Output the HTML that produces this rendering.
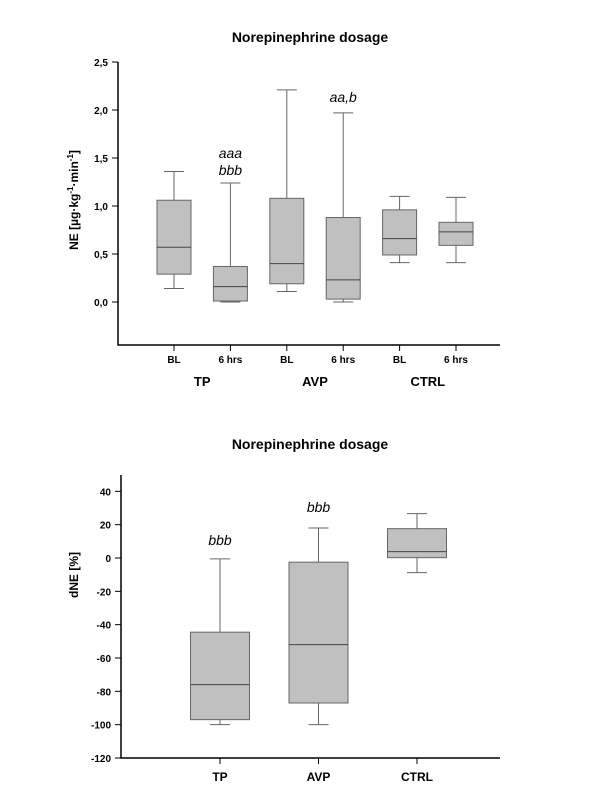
<!DOCTYPE html>
<html><head><meta charset="utf-8"><style>
body{margin:0;background:#fff}
svg{font-family:"Liberation Sans",sans-serif}
</style></head><body>
<svg id="s" width="600" height="800" xmlns="http://www.w3.org/2000/svg">
<text x="310" y="42" text-anchor="middle" font-size="14" font-weight="bold">Norepinephrine dosage</text>
<text x="310" y="449" text-anchor="middle" font-size="14" font-weight="bold">Norepinephrine dosage</text>
<text transform="translate(78,200) rotate(-90)" text-anchor="middle" font-size="12" font-weight="bold">NE [µg·kg<tspan dy="-5" font-size="8">-1</tspan><tspan dy="5">·min</tspan><tspan dy="-5" font-size="8">-1</tspan><tspan dy="5">]</tspan></text>
<text transform="translate(78,575) rotate(-90)" text-anchor="middle" font-size="12" font-weight="bold">dNE [%]</text>
<g id="g1"></g><g id="g2"></g>
</svg>
<script>
const topCats=["BL","6 hrs","BL","6 hrs","BL","6 hrs"];
const topGroups=["TP","AVP","CTRL"];
const topMin=[0.14,0.0,0.11,0.0,0.41,0.41];
const topQ1=[0.29,0.01,0.19,0.03,0.49,0.59];
const topMed=[0.57,0.16,0.40,0.23,0.66,0.73];
const topQ3=[1.06,0.37,1.08,0.88,0.96,0.83];
const topMax=[1.36,1.24,2.21,1.97,1.10,1.09];
const topTicks=["0,0","0,5","1,0","1,5","2,0","2,5"];
const topTickVals=[0,0.5,1,1.5,2,2.5];
const botCats=["TP","AVP","CTRL"];
const botMin=[-100,-100,-8.8];
const botQ1=[-97,-87,0.2];
const botMed=[-76,-52,3.8];
const botQ3=[-44.5,-2.5,17.6];
const botMax=[-0.5,18,26.6];
const botTicks=[-120,-100,-80,-60,-40,-20,0,20,40];
const NS="http://www.w3.org/2000/svg";
function mk(p,t,a,txt){const e=document.createElementNS(NS,t);for(const k in a)e.setAttribute(k,a[k]);if(txt!=null)e.textContent=txt;p.appendChild(e);return e;}
function yT(v){return 302-v*96;}
function xT(i){return 174+i*56.4;}
function yB(v){return 558-v*200/120;}
function xB(i){return 220+i*98.5;}
function boxes(g,n,x,y,mn,q1,md,q3,mx,w,cw,pfx){
 for(let i=0;i<n;i++){
  const cx=x(i);
  const bx=document.createElementNS(NS,'g');g.appendChild(bx);
  
  
  mk(bx,'line',{x1:cx,x2:cx,y1:y(mx[i]),y2:y(q3[i]),stroke:'#666'});
  mk(bx,'line',{x1:cx,x2:cx,y1:y(q1[i]),y2:y(mn[i]),stroke:'#666'});
  mk(bx,'line',{x1:cx-cw/2,x2:cx+cw/2,y1:y(mx[i]),y2:y(mx[i]),stroke:'#666'});
  mk(bx,'line',{x1:cx-cw/2,x2:cx+cw/2,y1:y(mn[i]),y2:y(mn[i]),stroke:'#666'});
  mk(bx,'rect',{x:cx-w/2,y:y(q3[i]),width:w,height:y(q1[i])-y(q3[i]),fill:'#c0c0c0',stroke:'#666'});
  mk(bx,'line',{x1:cx-w/2,x2:cx+w/2,y1:y(md[i]),y2:y(md[i]),stroke:'#444'});
 }
}
const g1=document.getElementById('g1');
let ax=mk(g1,'path',{d:'M118,62V345H500',fill:'none',stroke:'#000','stroke-width':1.5});


topTickVals.forEach((v,i)=>{mk(g1,'line',{x1:112,x2:118,y1:yT(v),y2:yT(v),stroke:'#000'});
 const t=mk(g1,'text',{x:108,y:yT(v)+4,'text-anchor':'end','font-size':10,'font-weight':'bold'},topTicks[i]);
 
 });
topCats.forEach((c,i)=>{mk(g1,'line',{x1:xT(i),x2:xT(i),y1:345,y2:351,stroke:'#000'});
 const t=mk(g1,'text',{x:xT(i),y:363,'text-anchor':'middle','font-size':10,'font-weight':'bold'},c);
 
 });
topGroups.forEach((c,i)=>{const t=mk(g1,'text',{x:(xT(2*i)+xT(2*i+1))/2,y:386,'text-anchor':'middle','font-size':13,'font-weight':'bold'},c);
 
 });
boxes(g1,6,xT,yT,topMin,topQ1,topMed,topQ3,topMax,34,20,'top');
[["aaa",xT(1),158],["bbb",xT(1),175],["aa,b",xT(3),102]].forEach(a=>{const t=mk(g1,'text',{x:a[1],y:a[2],'text-anchor':'middle','font-size':14,'font-style':'italic'},a[0]);
 
 });
const g2=document.getElementById('g2');
ax=mk(g2,'path',{d:'M121,475V758H500',fill:'none',stroke:'#000','stroke-width':1.5});


botTicks.forEach(v=>{mk(g2,'line',{x1:115,x2:121,y1:yB(v),y2:yB(v),stroke:'#000'});
 const t=mk(g2,'text',{x:111,y:yB(v)+4,'text-anchor':'end','font-size':10,'font-weight':'bold'},String(v));
 
 });
botCats.forEach((c,i)=>{mk(g2,'line',{x1:xB(i),x2:xB(i),y1:758,y2:764,stroke:'#000'});
 const t=mk(g2,'text',{x:xB(i),y:781,'text-anchor':'middle','font-size':12,'font-weight':'bold'},c);
 
 });
boxes(g2,3,xB,yB,botMin,botQ1,botMed,botQ3,botMax,59,20,'bottom');
[["bbb",xB(0),545],["bbb",xB(1),512]].forEach(a=>{const t=mk(g2,'text',{x:a[1],y:a[2],'text-anchor':'middle','font-size':14,'font-style':'italic'},a[0]);
 
 });
</script>
</body></html>
